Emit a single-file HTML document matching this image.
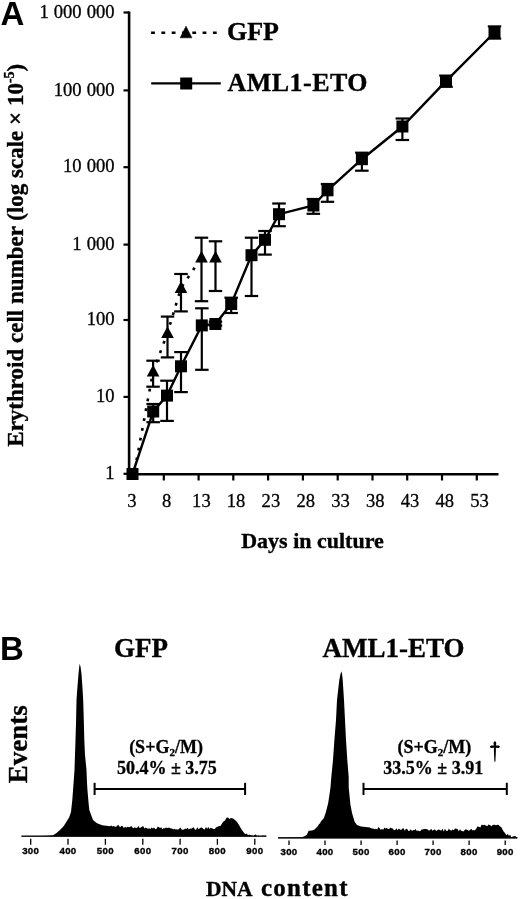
<!DOCTYPE html>
<html><head><meta charset="utf-8"><style>
html,body{margin:0;padding:0;background:#fff;}
body{width:520px;height:899px;overflow:hidden;}
svg{display:block;filter:grayscale(1);}
text{font-family:"Liberation Serif",serif;fill:#000;}
.xl,.yl,.lg,.bt,.ev,.dna1,.dna2{stroke:#000;stroke-width:0.35px;}
.tl{font-size:18.6px;word-spacing:0.4px;stroke:#000;stroke-width:0.3px;}
.xl{font-size:22px;font-weight:bold;}
.yl{font-size:23px;font-weight:bold;}
.lg{font-size:26px;font-weight:bold;}
.pl{font-family:"Liberation Sans",sans-serif;font-size:33px;font-weight:bold;}
.bt{font-size:27px;font-weight:bold;}
.ev{font-size:27px;font-weight:bold;}
.dna1{font-size:21px;font-weight:bold;}
.dna2{font-size:25px;font-weight:bold;}
.hl{font-family:"Liberation Sans",sans-serif;font-size:9.7px;font-weight:bold;stroke:#000;stroke-width:0.35px;letter-spacing:0.3px;}
.an{font-size:18px;font-weight:bold;stroke:#000;stroke-width:0.3px;}
.sub{font-size:11px;}
.dg{font-size:27px;}
</style></head>
<body><svg width="520" height="899" viewBox="0 0 520 899">
<line x1="129.1" y1="11.5" x2="129.1" y2="475.4" stroke="#000" stroke-width="2.6"/>
<line x1="127.8" y1="474.2" x2="498.5" y2="474.2" stroke="#000" stroke-width="2.6"/>
<line x1="123.5" y1="473.8" x2="129.1" y2="473.8" stroke="#000" stroke-width="2.2"/>
<text x="114.6" y="478.9" class="tl" text-anchor="end">1</text>
<line x1="123.5" y1="396.9" x2="129.1" y2="396.9" stroke="#000" stroke-width="2.2"/>
<text x="114.6" y="402" class="tl" text-anchor="end">10</text>
<line x1="123.5" y1="320.0" x2="129.1" y2="320.0" stroke="#000" stroke-width="2.2"/>
<text x="114.6" y="325.1" class="tl" text-anchor="end">100</text>
<line x1="123.5" y1="244.6" x2="129.1" y2="244.6" stroke="#000" stroke-width="2.2"/>
<text x="114.6" y="249.7" class="tl" text-anchor="end">1 000</text>
<line x1="123.5" y1="167.2" x2="129.1" y2="167.2" stroke="#000" stroke-width="2.2"/>
<text x="114.6" y="172.3" class="tl" text-anchor="end">10 000</text>
<line x1="123.5" y1="90.4" x2="129.1" y2="90.4" stroke="#000" stroke-width="2.2"/>
<text x="114.6" y="95.5" class="tl" text-anchor="end">100 000</text>
<line x1="123.5" y1="12.5" x2="129.1" y2="12.5" stroke="#000" stroke-width="2.2"/>
<text x="114.6" y="17.6" class="tl" text-anchor="end">1 000 000</text>
<text x="131.8" y="506.7" class="tl" text-anchor="middle">3</text>
<line x1="163.8" y1="474.2" x2="163.8" y2="480.5" stroke="#000" stroke-width="2.2"/>
<text x="166.6" y="506.7" class="tl" text-anchor="middle">8</text>
<line x1="198.6" y1="474.2" x2="198.6" y2="480.5" stroke="#000" stroke-width="2.2"/>
<text x="201.4" y="506.7" class="tl" text-anchor="middle">13</text>
<line x1="233.3" y1="474.2" x2="233.3" y2="480.5" stroke="#000" stroke-width="2.2"/>
<text x="236.1" y="506.7" class="tl" text-anchor="middle">18</text>
<line x1="268.1" y1="474.2" x2="268.1" y2="480.5" stroke="#000" stroke-width="2.2"/>
<text x="270.9" y="506.7" class="tl" text-anchor="middle">23</text>
<line x1="302.9" y1="474.2" x2="302.9" y2="480.5" stroke="#000" stroke-width="2.2"/>
<text x="305.7" y="506.7" class="tl" text-anchor="middle">28</text>
<line x1="337.7" y1="474.2" x2="337.7" y2="480.5" stroke="#000" stroke-width="2.2"/>
<text x="340.5" y="506.7" class="tl" text-anchor="middle">33</text>
<line x1="372.5" y1="474.2" x2="372.5" y2="480.5" stroke="#000" stroke-width="2.2"/>
<text x="375.3" y="506.7" class="tl" text-anchor="middle">38</text>
<line x1="407.2" y1="474.2" x2="407.2" y2="480.5" stroke="#000" stroke-width="2.2"/>
<text x="410" y="506.7" class="tl" text-anchor="middle">43</text>
<line x1="442" y1="474.2" x2="442" y2="480.5" stroke="#000" stroke-width="2.2"/>
<text x="444.8" y="506.7" class="tl" text-anchor="middle">48</text>
<line x1="476.8" y1="474.2" x2="476.8" y2="480.5" stroke="#000" stroke-width="2.2"/>
<text x="479.6" y="506.7" class="tl" text-anchor="middle">53</text>
<text x="312.5" y="547.8" class="xl" text-anchor="middle">Days in culture</text>
<text transform="translate(23.1 446.7) rotate(-90)" class="yl">Erythroid cell number (log scale × 10<tspan dy="-9" font-size="14">-5</tspan><tspan dy="9">)</tspan></text>
<path d="M134 474 L153.1 371.5 L167.5 333 L181 288 L201.5 257.5" fill="none" stroke="#000" stroke-width="2.6" stroke-dasharray="2.8 7.2" stroke-dashoffset="-4"/>
<path d="M132.5 474 L153.2 411.5 L167 395.6 L181 366.3 L201.8 325.4 L215.4 324 L231.2 304 L251.5 255.2 L265 239.8 L279 214.2 L313.4 205.5 L327.5 190.3 L361.9 159.2 L402.4 126.5 L446 81.2 L494.5 32.5" fill="none" stroke="#000" stroke-width="2.4"/>
<line x1="153.1" y1="360.7" x2="153.1" y2="386.7" stroke="#000" stroke-width="2.2"/>
<line x1="146.3" y1="360.7" x2="159.8" y2="360.7" stroke="#000" stroke-width="2.2"/>
<line x1="146.3" y1="386.7" x2="159.8" y2="386.7" stroke="#000" stroke-width="2.2"/>
<line x1="167.5" y1="316.6" x2="167.5" y2="357.4" stroke="#000" stroke-width="2.2"/>
<line x1="160.8" y1="316.6" x2="174.2" y2="316.6" stroke="#000" stroke-width="2.2"/>
<line x1="160.8" y1="357.4" x2="174.2" y2="357.4" stroke="#000" stroke-width="2.2"/>
<line x1="181" y1="274" x2="181" y2="311.4" stroke="#000" stroke-width="2.2"/>
<line x1="174.2" y1="274" x2="187.8" y2="274" stroke="#000" stroke-width="2.2"/>
<line x1="174.2" y1="311.4" x2="187.8" y2="311.4" stroke="#000" stroke-width="2.2"/>
<line x1="201.5" y1="237.7" x2="201.5" y2="301.2" stroke="#000" stroke-width="2.2"/>
<line x1="194.8" y1="237.7" x2="208.2" y2="237.7" stroke="#000" stroke-width="2.2"/>
<line x1="194.8" y1="301.2" x2="208.2" y2="301.2" stroke="#000" stroke-width="2.2"/>
<line x1="215.5" y1="241.3" x2="215.5" y2="291" stroke="#000" stroke-width="2.2"/>
<line x1="208.8" y1="241.3" x2="222.2" y2="241.3" stroke="#000" stroke-width="2.2"/>
<line x1="208.8" y1="291" x2="222.2" y2="291" stroke="#000" stroke-width="2.2"/>
<line x1="153.2" y1="404" x2="153.2" y2="422.2" stroke="#000" stroke-width="2.2"/>
<line x1="146.4" y1="404" x2="159.9" y2="404" stroke="#000" stroke-width="2.2"/>
<line x1="146.4" y1="422.2" x2="159.9" y2="422.2" stroke="#000" stroke-width="2.2"/>
<line x1="167" y1="380.7" x2="167" y2="420.9" stroke="#000" stroke-width="2.2"/>
<line x1="160.2" y1="380.7" x2="173.8" y2="380.7" stroke="#000" stroke-width="2.2"/>
<line x1="160.2" y1="420.9" x2="173.8" y2="420.9" stroke="#000" stroke-width="2.2"/>
<line x1="181" y1="352.1" x2="181" y2="392.1" stroke="#000" stroke-width="2.2"/>
<line x1="174.2" y1="352.1" x2="187.8" y2="352.1" stroke="#000" stroke-width="2.2"/>
<line x1="174.2" y1="392.1" x2="187.8" y2="392.1" stroke="#000" stroke-width="2.2"/>
<line x1="201.8" y1="308.3" x2="201.8" y2="369.8" stroke="#000" stroke-width="2.2"/>
<line x1="195.1" y1="308.3" x2="208.6" y2="308.3" stroke="#000" stroke-width="2.2"/>
<line x1="195.1" y1="369.8" x2="208.6" y2="369.8" stroke="#000" stroke-width="2.2"/>
<line x1="215.4" y1="321.7" x2="215.4" y2="325.6" stroke="#000" stroke-width="2.2"/>
<line x1="208.7" y1="321.7" x2="222.2" y2="321.7" stroke="#000" stroke-width="2.2"/>
<line x1="208.7" y1="325.6" x2="222.2" y2="325.6" stroke="#000" stroke-width="2.2"/>
<line x1="231.2" y1="297.7" x2="231.2" y2="313" stroke="#000" stroke-width="2.2"/>
<line x1="224.4" y1="297.7" x2="237.9" y2="297.7" stroke="#000" stroke-width="2.2"/>
<line x1="224.4" y1="313" x2="237.9" y2="313" stroke="#000" stroke-width="2.2"/>
<line x1="251.5" y1="237.7" x2="251.5" y2="296" stroke="#000" stroke-width="2.2"/>
<line x1="244.8" y1="237.7" x2="258.2" y2="237.7" stroke="#000" stroke-width="2.2"/>
<line x1="244.8" y1="296" x2="258.2" y2="296" stroke="#000" stroke-width="2.2"/>
<line x1="265" y1="231" x2="265" y2="254.6" stroke="#000" stroke-width="2.2"/>
<line x1="258.2" y1="231" x2="271.8" y2="231" stroke="#000" stroke-width="2.2"/>
<line x1="258.2" y1="254.6" x2="271.8" y2="254.6" stroke="#000" stroke-width="2.2"/>
<line x1="279" y1="203.5" x2="279" y2="226.2" stroke="#000" stroke-width="2.2"/>
<line x1="272.2" y1="203.5" x2="285.8" y2="203.5" stroke="#000" stroke-width="2.2"/>
<line x1="272.2" y1="226.2" x2="285.8" y2="226.2" stroke="#000" stroke-width="2.2"/>
<line x1="313.4" y1="199" x2="313.4" y2="213.8" stroke="#000" stroke-width="2.2"/>
<line x1="306.6" y1="199" x2="320.1" y2="199" stroke="#000" stroke-width="2.2"/>
<line x1="306.6" y1="213.8" x2="320.1" y2="213.8" stroke="#000" stroke-width="2.2"/>
<line x1="327.5" y1="184" x2="327.5" y2="201.8" stroke="#000" stroke-width="2.2"/>
<line x1="320.8" y1="184" x2="334.2" y2="184" stroke="#000" stroke-width="2.2"/>
<line x1="320.8" y1="201.8" x2="334.2" y2="201.8" stroke="#000" stroke-width="2.2"/>
<line x1="361.9" y1="152.7" x2="361.9" y2="170.7" stroke="#000" stroke-width="2.2"/>
<line x1="355.1" y1="152.7" x2="368.6" y2="152.7" stroke="#000" stroke-width="2.2"/>
<line x1="355.1" y1="170.7" x2="368.6" y2="170.7" stroke="#000" stroke-width="2.2"/>
<line x1="402.4" y1="118.5" x2="402.4" y2="140" stroke="#000" stroke-width="2.2"/>
<line x1="395.6" y1="118.5" x2="409.1" y2="118.5" stroke="#000" stroke-width="2.2"/>
<line x1="395.6" y1="140" x2="409.1" y2="140" stroke="#000" stroke-width="2.2"/>
<line x1="446" y1="75.6" x2="446" y2="86.8" stroke="#000" stroke-width="2.2"/>
<line x1="439.2" y1="75.6" x2="452.8" y2="75.6" stroke="#000" stroke-width="2.2"/>
<line x1="439.2" y1="86.8" x2="452.8" y2="86.8" stroke="#000" stroke-width="2.2"/>
<line x1="494.5" y1="26.4" x2="494.5" y2="38.6" stroke="#000" stroke-width="2.2"/>
<line x1="487.8" y1="26.4" x2="501.2" y2="26.4" stroke="#000" stroke-width="2.2"/>
<line x1="487.8" y1="38.6" x2="501.2" y2="38.6" stroke="#000" stroke-width="2.2"/>
<path d="M153.1 364.7 L159.4 376.5 L146.8 376.5 Z" fill="#000"/>
<path d="M167.5 326.2 L173.8 338 L161.2 338 Z" fill="#000"/>
<path d="M181 281.2 L187.3 293 L174.7 293 Z" fill="#000"/>
<path d="M201.5 250.7 L207.8 262.5 L195.2 262.5 Z" fill="#000"/>
<path d="M215.5 250.7 L221.8 262.5 L209.2 262.5 Z" fill="#000"/>
<rect x="126.5" y="468" width="12" height="12" fill="#000"/>
<rect x="147.2" y="405.5" width="12" height="12" fill="#000"/>
<rect x="161" y="389.6" width="12" height="12" fill="#000"/>
<rect x="175" y="360.3" width="12" height="12" fill="#000"/>
<rect x="195.8" y="319.4" width="12" height="12" fill="#000"/>
<rect x="209.4" y="318" width="12" height="12" fill="#000"/>
<rect x="225.2" y="298" width="12" height="12" fill="#000"/>
<rect x="245.5" y="249.2" width="12" height="12" fill="#000"/>
<rect x="259" y="233.8" width="12" height="12" fill="#000"/>
<rect x="273" y="208.2" width="12" height="12" fill="#000"/>
<rect x="307.4" y="199.5" width="12" height="12" fill="#000"/>
<rect x="321.5" y="184.3" width="12" height="12" fill="#000"/>
<rect x="355.9" y="153.2" width="12" height="12" fill="#000"/>
<rect x="396.4" y="120.5" width="12" height="12" fill="#000"/>
<rect x="440" y="75.2" width="12" height="12" fill="#000"/>
<rect x="488.5" y="26.5" width="12" height="12" fill="#000"/>
<line x1="151.1" y1="32.8" x2="218" y2="32.8" stroke="#000" stroke-width="2.5" stroke-dasharray="3.8 6.5"/>
<path d="M186 26.2 L191.9 37.8 L180.2 37.8 Z" fill="#000" stroke="#000" stroke-width="0.6" stroke-linejoin="round"/>
<line x1="151.2" y1="83.4" x2="220.8" y2="83.4" stroke="#000" stroke-width="2.4"/>
<rect x="180.2" y="77.5" width="12" height="12" fill="#000"/>
<text x="227" y="40.2" class="lg">GFP</text>
<text x="227.5" y="91.3" class="lg" textLength="140" lengthAdjust="spacing">AML1-ETO</text>
<text x="0.5" y="24.6" class="pl">A</text>
<text x="0" y="659.8" class="pl">B</text>
<text x="141" y="656.9" class="bt" text-anchor="middle">GFP</text>
<text x="393.6" y="656.8" class="bt" text-anchor="middle">AML1-ETO</text>
<text transform="translate(26.8 783.3) rotate(-90)" class="ev">Events</text>
<text x="206" y="895.8" class="dna1" textLength="46.5" lengthAdjust="spacingAndGlyphs">DNA</text>
<text x="261" y="895.6" class="dna2" textLength="86.5" lengthAdjust="spacing">content</text>
<path d="M21.5 836 L40 835.9 L48 835.7 L53 835.2 L56.5 832.9 L60 830 L63.4 826.5 L66.3 822 L69.2 817.3 L71 812 L72.3 800 L73.2 788 L73.8 780 L74.5 770 L75 755 L75.5 740 L76.1 720 L76.5 700 L77.2 690 L78.4 675 L79.2 667 L79.7 663.7 L80.6 667 L81.6 675 L82.6 690 L83.2 700 L83.8 720 L84.3 740 L85 755 L86.5 770 L86.9 780 L87.3 788 L88.3 800 L89.3 810 L93 820 L97 823.2 L102.3 825.2 L110 826.2 L110 826.2 L111.2 825.5 L112.5 826.4 L113.8 826 L115 826.7 L116.2 826.8 L117.5 825.3 L118.8 825.2 L120 827.5 L121.2 826 L122.5 826 L123.8 828.1 L125 826.7 L126.2 827.8 L127.5 826.8 L128.8 827.3 L130 827 L131.2 826.1 L132.4 827.5 L133.6 828.2 L134.8 827.2 L136 827.9 L137.2 827.7 L138.4 826.1 L139.6 828 L140.8 827.6 L142 826.8 L143.2 826.1 L144.4 828.5 L145.6 827.4 L146.8 828.2 L148 828.7 L149.2 828.2 L150.4 828.9 L151.6 827.4 L152.8 828.6 L154 827.6 L155.2 829.1 L156.4 828.9 L157.6 826.8 L158.8 826.9 L160 828 L161.2 827.2 L162.4 829.3 L163.6 827.9 L164.8 828.4 L166 827.5 L167.2 828.1 L168.4 827.8 L169.6 827.7 L170.8 828.4 L172 828.4 L173.2 829.4 L174.4 828.7 L175.6 829.5 L176.8 829.3 L178 829.7 L179.2 828.8 L180.4 827.4 L181.6 829.4 L182.8 829.7 L184 829.5 L185.2 828.6 L186.4 829 L187.6 827.7 L188.8 829.4 L190 828.5 L191.2 828.7 L192.4 827.9 L193.7 827.2 L194.9 829.4 L196.1 829.8 L197.3 827.3 L198.6 829.3 L199.8 828.2 L201 827.4 L202.2 827.8 L203.4 829.1 L204.7 829.4 L205.9 827.1 L207.1 828.7 L208.3 827.1 L209.6 828.9 L210.8 827.8 L212 828.3 L213.3 829.1 L214.7 829.1 L216 827.5 L217.5 826.8 L219 826 L220.5 826.1 L222 823.5 L223.5 821.5 L225 820.5 L226.5 817.8 L228 817.5 L229.5 819 L231 818 L233 818.5 L235 820 L237 822 L239 825 L241 828.5 L243 831.5 L244.2 833.1 L245.4 834.2 L246.7 833.4 L248 835.2 L249.5 834.6 L251 835.6 L252.2 835.4 L253.5 835.9 L254.8 834.7 L256 834.4 L257.2 836.7 L258.5 835.2 L259.8 837 L261 836.8 L262.2 835.4 L263.5 835.7 L264.8 835.8 L266 835.8 L266 836.6 L21.5 836.6 Z" fill="#000"/>
<line x1="21.4" y1="836.1" x2="266.5" y2="836.1" stroke="#000" stroke-width="1.3"/>
<line x1="30.7" y1="838.8" x2="30.7" y2="844.8" stroke="#000" stroke-width="1.3"/>
<text x="30.7" y="854.2" class="hl" text-anchor="middle">300</text>
<line x1="68" y1="838.8" x2="68" y2="844.8" stroke="#000" stroke-width="1.3"/>
<text x="68" y="854.2" class="hl" text-anchor="middle">400</text>
<line x1="105.4" y1="838.8" x2="105.4" y2="844.8" stroke="#000" stroke-width="1.3"/>
<text x="105.4" y="854.2" class="hl" text-anchor="middle">500</text>
<line x1="142.8" y1="838.8" x2="142.8" y2="844.8" stroke="#000" stroke-width="1.3"/>
<text x="142.8" y="854.2" class="hl" text-anchor="middle">600</text>
<line x1="180.1" y1="838.8" x2="180.1" y2="844.8" stroke="#000" stroke-width="1.3"/>
<text x="180.1" y="854.2" class="hl" text-anchor="middle">700</text>
<line x1="217.4" y1="838.8" x2="217.4" y2="844.8" stroke="#000" stroke-width="1.3"/>
<text x="217.4" y="854.2" class="hl" text-anchor="middle">800</text>
<line x1="254.8" y1="838.8" x2="254.8" y2="844.8" stroke="#000" stroke-width="1.3"/>
<text x="254.8" y="854.2" class="hl" text-anchor="middle">900</text>
<path d="M278 837.5 L300 837.3 L302.7 837 L305 836 L307 834.6 L308.5 831 L309.4 830.8 L312 830.5 L314.2 829.8 L316 828 L318 826 L319 824 L320 823.5 L321 821.2 L323.8 818.3 L325.8 812.5 L328.2 802.9 L329.4 795 L330.5 787.3 L331.3 777.3 L333 760 L334.4 740 L336 720 L337 700 L339.3 680 L340.5 674 L341.3 671.3 L342.1 674 L342.7 680 L344 700 L345 720 L346 740 L347.3 760 L348.7 777.3 L348.7 787.3 L350.4 804.6 L352.1 813.3 L354.7 821.9 L357 825 L361 826.5 L370 827.5 L370 827.8 L371.2 828.2 L372.4 828.6 L373.6 828.8 L374.8 829.3 L376 828.8 L377.2 829.4 L378.4 827 L379.6 828.2 L380.8 829.7 L382 828.9 L383.2 829.7 L384.4 827.5 L385.6 828.6 L386.8 828 L388 828.9 L389.2 829.1 L390.4 827.6 L391.6 828.2 L392.8 828.5 L394 830.3 L395.2 830 L396.4 828.3 L397.6 830.2 L398.8 828.4 L400 829.5 L401.2 829.9 L402.4 828.5 L403.6 828.2 L404.8 830.7 L406 828.8 L407.2 828.9 L408.4 831 L409.6 830.8 L410.8 829.2 L412 831.1 L413.2 829.9 L414.4 830.3 L415.6 829 L416.8 831.1 L418 830.5 L419.2 831.3 L420.4 831.1 L421.6 829.4 L422.8 829.6 L424 829.1 L425.2 829.1 L426.4 828.9 L427.6 829.6 L428.8 830.5 L430 830.2 L431.2 828.8 L432.5 830.7 L433.8 829.7 L435 829.6 L436.2 831 L437.5 830.1 L438.8 829.6 L440 830 L441.2 830.7 L442.5 828.8 L443.8 831.4 L445 828.7 L446.2 830.7 L447.5 831 L448.8 828.7 L450 830 L451.2 830.8 L452.5 829.6 L453.8 830.2 L455 828.6 L456.2 828.7 L457.5 829.1 L458.8 831.3 L460 829.2 L461.2 830.7 L462.5 831.2 L463.8 831.2 L465 829.6 L466.2 829.6 L467.5 830.1 L468.8 830.8 L470 830 L471.2 828.7 L472.4 830.3 L473.6 830.2 L474.8 830.2 L476 829 L477.5 826.6 L479 826.8 L480.3 827.5 L481.7 824.6 L483 825.2 L484.4 824.7 L485.8 825.4 L487.2 826.3 L488.6 824.6 L490 825 L491.2 826.2 L492.4 825.2 L493.6 824.7 L494.8 824.7 L496 825.3 L497.3 824.8 L498.7 824.9 L500 826.5 L501.2 827 L502.5 829.5 L503.8 831.8 L505 833 L506.3 835.3 L507.7 833.9 L509 835.8 L510.2 834.7 L511.4 837.5 L512.6 836.4 L513.9 836.2 L515.1 835.9 L516.3 837.1 L517.5 837 L517.5 838.2 L278 838.2 Z" fill="#000"/>
<line x1="278" y1="837.8" x2="517" y2="837.8" stroke="#000" stroke-width="1.3"/>
<line x1="289" y1="840.5" x2="289" y2="845" stroke="#000" stroke-width="1.3"/>
<text x="289" y="854.8" class="hl" text-anchor="middle">300</text>
<line x1="325" y1="840.5" x2="325" y2="845" stroke="#000" stroke-width="1.3"/>
<text x="325" y="854.8" class="hl" text-anchor="middle">400</text>
<line x1="361.1" y1="840.5" x2="361.1" y2="845" stroke="#000" stroke-width="1.3"/>
<text x="361.1" y="854.8" class="hl" text-anchor="middle">500</text>
<line x1="397.1" y1="840.5" x2="397.1" y2="845" stroke="#000" stroke-width="1.3"/>
<text x="397.1" y="854.8" class="hl" text-anchor="middle">600</text>
<line x1="433.1" y1="840.5" x2="433.1" y2="845" stroke="#000" stroke-width="1.3"/>
<text x="433.1" y="854.8" class="hl" text-anchor="middle">700</text>
<line x1="469.1" y1="840.5" x2="469.1" y2="845" stroke="#000" stroke-width="1.3"/>
<text x="469.1" y="854.8" class="hl" text-anchor="middle">800</text>
<line x1="505.2" y1="840.5" x2="505.2" y2="845" stroke="#000" stroke-width="1.3"/>
<text x="505.2" y="854.8" class="hl" text-anchor="middle">900</text>
<line x1="94.6" y1="789" x2="245.1" y2="789" stroke="#000" stroke-width="2"/>
<line x1="94.6" y1="782.8" x2="94.6" y2="795" stroke="#000" stroke-width="2"/>
<line x1="245.1" y1="782.8" x2="245.1" y2="795" stroke="#000" stroke-width="2"/>
<line x1="363.5" y1="789" x2="506.8" y2="789" stroke="#000" stroke-width="2"/>
<line x1="363.5" y1="782.8" x2="363.5" y2="795" stroke="#000" stroke-width="2"/>
<line x1="506.8" y1="782.8" x2="506.8" y2="795" stroke="#000" stroke-width="2"/>
<text x="166" y="752.8" class="an" text-anchor="middle">(S+G<tspan class="sub" dy="3">2</tspan><tspan dy="-3">/M)</tspan></text>
<text x="166.9" y="774.4" class="an" text-anchor="middle">50.4% ± 3.75</text>
<text x="434.3" y="752.8" class="an" text-anchor="middle">(S+G<tspan class="sub" dy="3">2</tspan><tspan dy="-3">/M)</tspan></text>
<text x="433.3" y="774.4" class="an" text-anchor="middle">33.5% ± 3.91</text>
<path d="M494.9 741.2 C496.4 741.2 496.6 743.6 495.9 745.6 L498.6 745.4 C500.2 745.3 500.2 748 498.6 747.9 L495.9 747.7 C496 752 495.6 757 495.4 761.8 L494.4 761.8 C494.2 757 493.8 752 493.9 747.7 L491.2 747.9 C489.6 748 489.6 745.3 491.2 745.4 L493.9 745.6 C493.2 743.6 493.4 741.2 494.9 741.2 Z" fill="#000"/>
</svg></body></html>
